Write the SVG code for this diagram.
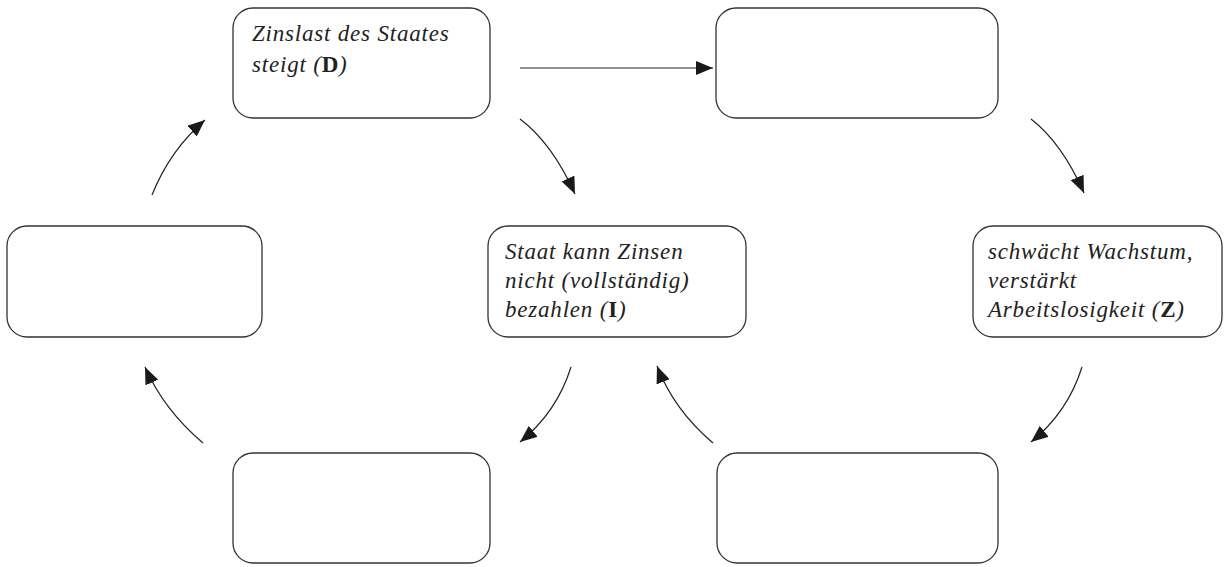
<svg xmlns="http://www.w3.org/2000/svg" width="1225" height="567" viewBox="0 0 1225 567">
<style>
.box{fill:#fff;stroke:#333;stroke-width:1.3}
.t{font-family:"Liberation Serif",serif;font-style:italic;font-size:23px;letter-spacing:0.8px;fill:#222}
.b{font-weight:bold;font-style:normal}
.c{fill:none;stroke:#222;stroke-width:1.2;marker-end:url(#ah)}
</style>
<defs>
<marker id="ah" markerUnits="userSpaceOnUse" markerWidth="19" markerHeight="15" refX="17" refY="7" orient="auto">
<path d="M0,0 L17,7 L0,14 z" fill="#1a1a1a"/>
</marker>
</defs>
<rect width="1225" height="567" fill="#fff"/>
<g id="n1"><rect class="box" x="233" y="8" width="257" height="110" rx="20"/>
<text class="t" x="252" y="41">Zinslast des Staates</text>
<text class="t" x="252" y="72">steigt (<tspan class="b">D</tspan>)</text></g>
<g id="n2"><rect class="box" x="716" y="8" width="282" height="110" rx="20"/></g>
<g id="n3"><rect class="box" x="7" y="226" width="255" height="111" rx="20"/></g>
<g id="n4"><rect class="box" x="488" y="226" width="258" height="111" rx="20"/>
<text class="t" x="505" y="259">Staat kann Zinsen</text>
<text class="t" x="505" y="288">nicht (vollständig)</text>
<text class="t" x="505" y="317">bezahlen (<tspan class="b">I</tspan>)</text></g>
<g id="n5"><rect class="box" x="973" y="226" width="249" height="111" rx="20"/>
<text class="t" x="988" y="259">schwächt Wachstum,</text>
<text class="t" x="988" y="288">verstärkt</text>
<text class="t" x="988" y="317">Arbeitslosigkeit (<tspan class="b">Z</tspan>)</text></g>
<g id="n6"><rect class="box" x="233" y="453" width="257" height="110" rx="20"/></g>
<g id="n7"><rect class="box" x="717" y="453" width="281" height="110" rx="20"/></g>
<g id="connectors">
<path class="c" d="M520,68 L713,68"/>
<path class="c" d="M520,119 Q552,143 575,194"/>
<path class="c" d="M1031,119 Q1062,143 1084,193"/>
<path class="c" d="M1082,367 Q1068,412 1031,442"/>
<path class="c" d="M571,367 Q557,412 520,442"/>
<path class="c" d="M713,443 Q674,410 657,366"/>
<path class="c" d="M203,443 Q164,410 145,367"/>
<path class="c" d="M152,195 Q170,150 205,120"/>
</g>
</svg>
